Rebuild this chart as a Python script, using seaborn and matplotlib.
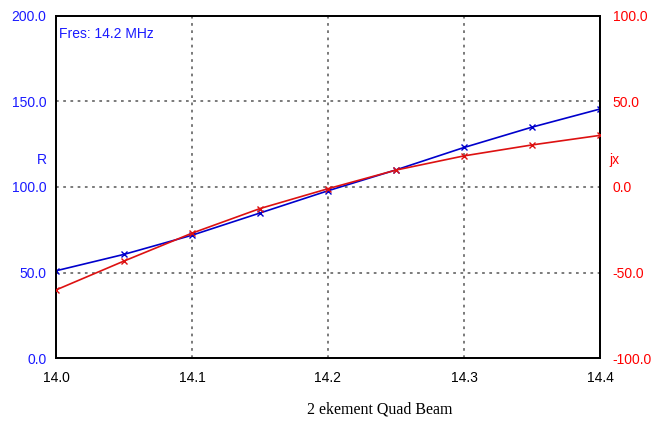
import matplotlib
matplotlib.use("Agg")
import matplotlib.pyplot as plt
import seaborn as sns
import pandas as pd

# Frequency sweep (MHz) and measured impedance components
freq = [14.0, 14.05, 14.1, 14.15, 14.2, 14.25, 14.3, 14.35, 14.4]
resistance = [51.0, 60.6, 71.8, 84.8, 97.8, 110.0, 123.1, 135.0, 145.6]
reactance = [-60.2, -43.3, -27.0, -12.6, -1.0, 9.9, 18.2, 24.6, 30.2]

x_ticks = [14.0, 14.1, 14.2, 14.3, 14.4]
r_ticks = [0, 50, 100, 150, 200]
jx_ticks = [-100, -50, 0, 50, 100]

df = pd.DataFrame({"freq": freq, "R": resistance, "jx": reactance})

sns.set_style("white")
plt.rcParams["font.family"] = ["Liberation Sans", "DejaVu Sans"]

BLUE_LINE = "#0000cc"
RED_LINE = "#dd1111"
BLUE_TXT = "#1a1aff"
RED_TXT = "#ff0000"

fig = plt.figure(figsize=(6.56, 4.21), dpi=100)
ax = fig.add_axes([56 / 656, 1 - 358 / 421, 544 / 656, 342 / 421])
ax2 = ax.twinx()

sns.lineplot(data=df, x="freq", y="R", ax=ax, color=BLUE_LINE, marker="x",
             markersize=5, markeredgewidth=1.0, markeredgecolor=BLUE_LINE,
             linewidth=1.2, zorder=3)
sns.lineplot(data=df, x="freq", y="jx", ax=ax2, color=RED_LINE, marker="x",
             markersize=5, markeredgewidth=1.0, markeredgecolor=RED_LINE,
             linewidth=1.2, zorder=3)

ax.set_xlim(14.0, 14.4)
ax.set_ylim(0, 200)
ax2.set_ylim(-100, 100)

ax.set_xticks(x_ticks)
ax.set_xticklabels([f"{v:.1f}" for v in x_ticks], fontsize=10, color="black")
ax.set_yticks(r_ticks)
ax.set_yticklabels([f"{v:.1f}" for v in r_ticks], fontsize=10, color=BLUE_TXT)
ax2.set_yticks(jx_ticks)
ax2.set_yticklabels([f"{v:.1f}" for v in jx_ticks], fontsize=10, color=RED_TXT)

ax.tick_params(axis="x", length=0, pad=9)
ax.tick_params(axis="y", length=0, pad=7)
ax2.tick_params(axis="y", length=0, pad=9)

ax.set_xlabel("")
ax.set_ylabel("")
ax2.set_ylabel("")

# Dotted grid on interior ticks only
for xv in x_ticks[1:-1]:
    ax.axvline(xv, color="#707070", linestyle=(0, (1.5, 2.5)), linewidth=1.3, zorder=1)
for yv in r_ticks[1:-1]:
    ax.axhline(yv, color="#707070", linestyle=(0, (1.5, 2.5)), linewidth=1.3, zorder=1)

for a in (ax, ax2):
    for sp in a.spines.values():
        sp.set_visible(True)
        sp.set_color("black")
        sp.set_linewidth(1.3)

fig.text(42 / 656, 1 - 160 / 421, "R", color=BLUE_TXT, fontsize=10, ha="center", va="center")
fig.text(614 / 656, 1 - 160 / 421, "jx", color=RED_TXT, fontsize=10, ha="center", va="center")
ax.text(0.006, 0.948, "Fres: 14.2 MHz", transform=ax.transAxes, color=BLUE_TXT,
        fontsize=10, ha="left", va="center")

fig.text(380 / 656, 1 - 409 / 421, "2 ekement Quad Beam", family=["Liberation Serif", "DejaVu Serif"],
         fontsize=11.5, ha="center", va="center", color="black")

fig.savefig("out.png", dpi=100, facecolor="white")
